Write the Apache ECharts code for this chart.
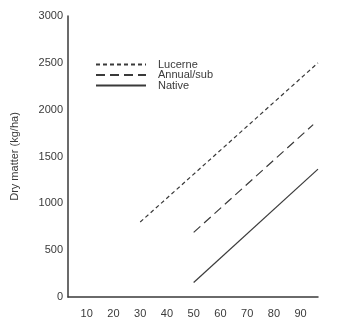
<!DOCTYPE html>
<html>
<head>
<meta charset="utf-8">
<script src="https://cdn.jsdelivr.net/npm/echarts@6/dist/echarts.min.js"></script>
<style>
html,body{margin:0;padding:0;background:#fff;}
#chart{width:347px;height:322px;}
</style>
</head>
<body>
<div id="chart"></div>
<script>
// Data
var seriesNames = ['Lucerne', 'Annual/sub', 'Native'];
var lucerne = [[30, 800], [96.5, 2500]];
var annualSub = [[50, 690], [94.7, 1840]];
var native = [[50, 155], [96.5, 1365]];
var xTickLabels = [10, 20, 30, 40, 50, 60, 70, 80, 90];
var yTicks = [0, 500, 1000, 1500, 2000, 2500, 3000];

var ink = '#3a3a3a';
var font = 'Liberation Sans, Arial, sans-serif';
var chart = echarts.init(document.getElementById('chart'));
chart.setOption({
  animation: false,
  backgroundColor: '#fff',
  grid: {left: 68, right: 29, top: 16, bottom: 25, containLabel: false},
  legend: {
    orient: 'vertical', left: 95, top: 59, padding: 0,
    itemWidth: 50, itemHeight: 10, itemGap: -0.5,
    itemStyle: {opacity: 0},
    textStyle: {fontFamily: font, fontSize: 11, color: ink, lineHeight: 10, padding: [0, 0, 0, 7]},
    data: seriesNames
  },
  xAxis: {
    type: 'value', min: 3, max: 96.5,
    axisLine: {show: true, lineStyle: {color: ink, width: 1.5}},
    axisTick: {show: false},
    splitLine: {show: false},
    axisLabel: {customValues: xTickLabels, color: ink, fontFamily: font, fontSize: 11, margin: 11}
  },
  yAxis: {
    type: 'value', min: yTicks[0], max: yTicks[yTicks.length - 1], interval: 500,
    name: 'Dry matter (kg/ha)', nameLocation: 'middle', nameGap: 48,
    nameTextStyle: {color: ink, fontFamily: font, fontSize: 11},
    axisLine: {show: true, lineStyle: {color: ink, width: 1.5}},
    axisTick: {show: false},
    splitLine: {show: false},
    axisLabel: {color: ink, fontFamily: font, fontSize: 11, margin: 5,
      formatter: function (v) { return String(v); }}
  },
  series: [
    {name: seriesNames[0], type: 'line', data: lucerne, showSymbol: false, symbol: 'none',
     lineStyle: {color: ink, width: 1.2, type: [4, 3]}, itemStyle: {color: ink}},
    {name: seriesNames[1], type: 'line', data: annualSub, showSymbol: false, symbol: 'none',
     lineStyle: {color: ink, width: 1.2, type: [9, 5]}, itemStyle: {color: ink}},
    {name: seriesNames[2], type: 'line', data: native, showSymbol: false, symbol: 'none',
     lineStyle: {color: ink, width: 1.2, type: 'solid'}, itemStyle: {color: ink}}
  ]
});
</script>
</body>
</html>
